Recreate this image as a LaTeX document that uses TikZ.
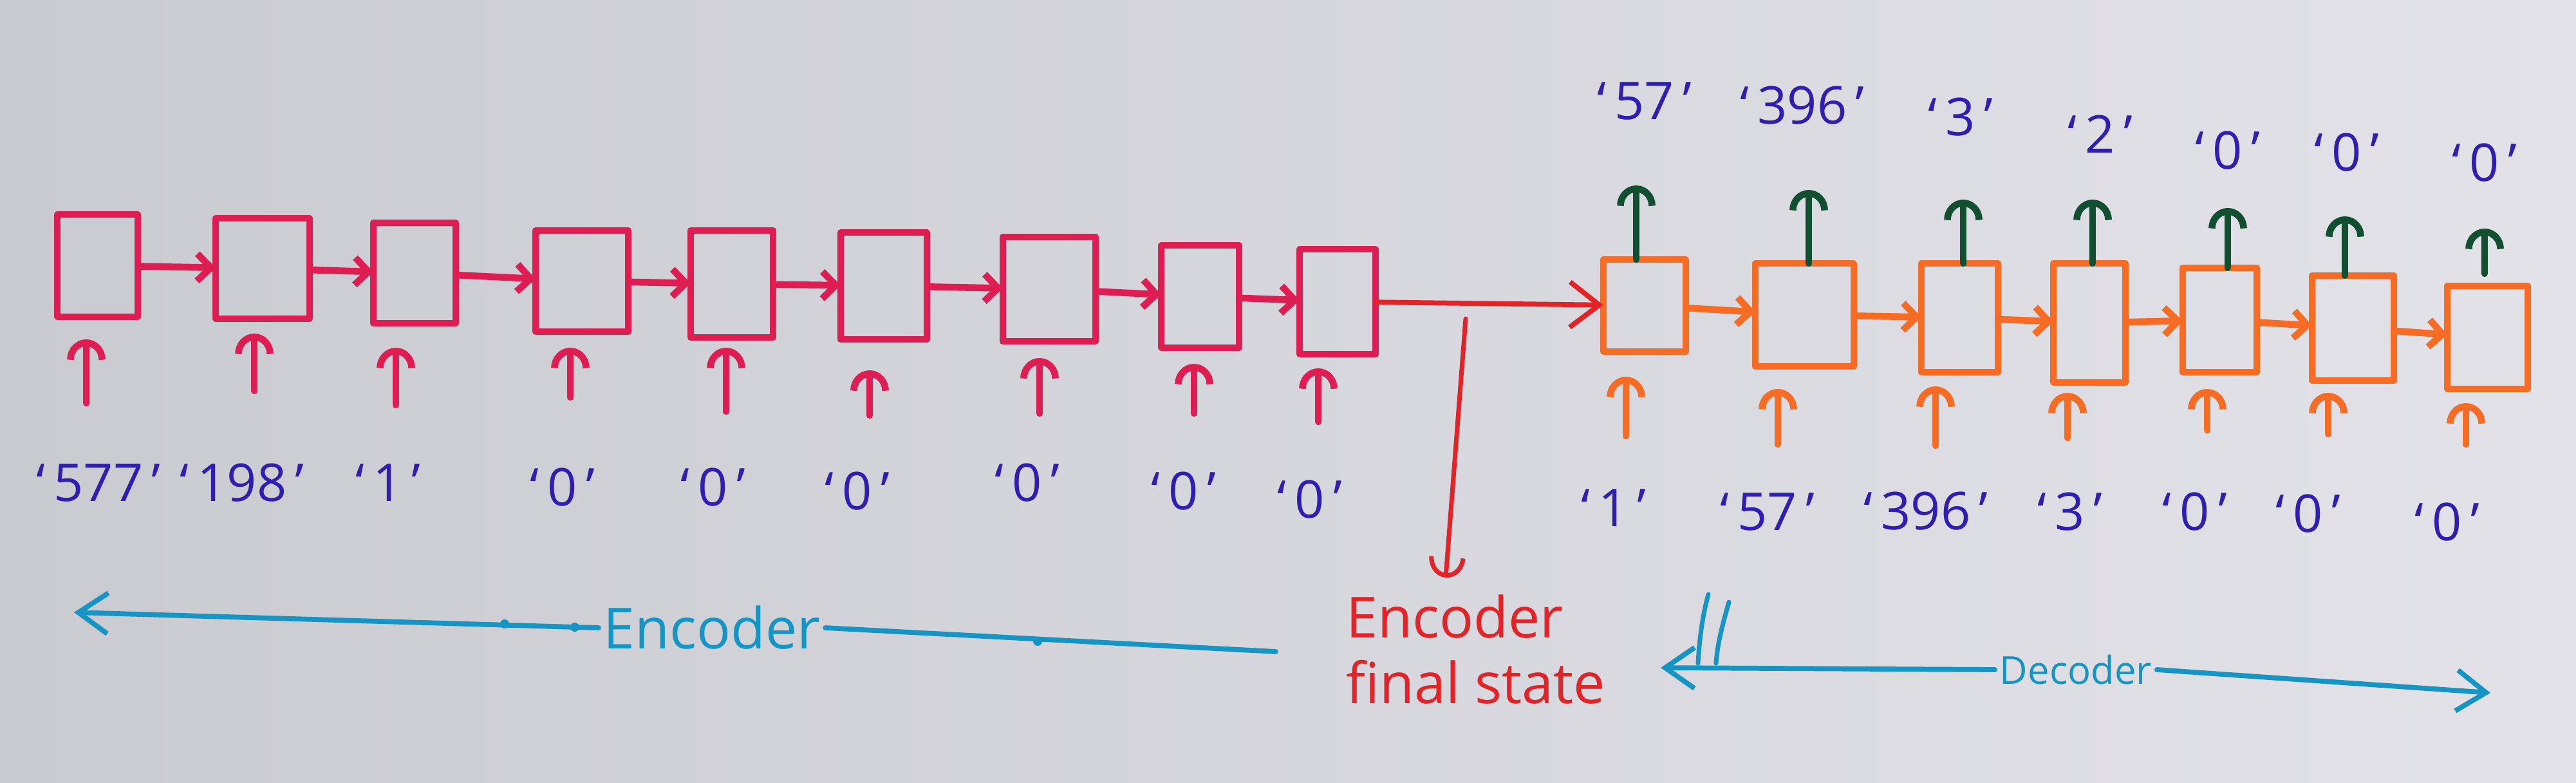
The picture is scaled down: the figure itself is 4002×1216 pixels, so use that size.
\documentclass[tikz,border=0pt]{standalone}
\usepackage{fontspec}
\setmainfont{Open Sans}
\usetikzlibrary{arrows.meta,calc}
\definecolor{paperA}{RGB}{202,202,209}
\definecolor{paperB}{RGB}{226,226,232}
\definecolor{encred}{RGB}{222,30,82}
\definecolor{fsred}{RGB}{226,36,40}
\definecolor{decor}{RGB}{246,108,36}
\definecolor{outgreen}{RGB}{18,78,48}
\definecolor{lblue}{RGB}{48,30,178}
\definecolor{cyanb}{RGB}{22,148,196}
\begin{document}
\begin{tikzpicture}[x=0.01cm,y=-0.01cm,line cap=round,line join=round,
  ebox/.style={draw=encred,line width=3pt,inner sep=0pt,outer sep=0pt},
  dbox/.style={draw=decor,line width=3pt,inner sep=0pt,outer sep=0pt},
  elink/.style={encred,line width=3pt,-{Straight Barb[length=6pt,width=12pt]}},
  dlink/.style={decor,line width=3pt,-{Straight Barb[length=6pt,width=12pt]}},
  einarrow/.style={encred,line width=3pt,-{Arc Barb[length=9pt,width=17pt]}},
  dinarrow/.style={decor,line width=3pt,-{Arc Barb[length=9pt,width=17pt]}},
  garrow/.style={outgreen,line width=3pt,-{Arc Barb[length=9pt,width=17pt]}},
  longred/.style={fsred,line width=2.2pt,-{Straight Barb[length=13pt,width=20pt]}},
  fsarrow/.style={fsred,line width=2pt,-{Arc Barb[length=9pt,width=16pt]}},
  bline/.style={cyanb,line width=2.2pt},
  btip/.style={-{Straight Barb[length=13pt,width=18pt]}},
  lbl/.style={text=lblue,font=\fontsize{23}{26}\selectfont,inner sep=1pt},
  blabel/.style={text=cyanb,font=\fontsize{25}{28}\selectfont,inner sep=2pt},
  fstext/.style={text=fsred,font=\fontsize{25}{29}\selectfont,align=left,inner sep=1pt}]

\shade[left color=paperA,right color=paperB] (0,0) rectangle (4002,1216);
\useasboundingbox (0,0) rectangle (4002,1216);

% encoder cells
\node[ebox,minimum width=1.25cm,minimum height=1.59cm] (e1) at (151.5,412.5) {};
\node[ebox,minimum width=1.46cm,minimum height=1.56cm] (e2) at (408,417) {};
\node[ebox,minimum width=1.28cm,minimum height=1.56cm] (e3) at (644,424) {};
\node[ebox,minimum width=1.44cm,minimum height=1.57cm] (e4) at (904,436.5) {};
\node[ebox,minimum width=1.28cm,minimum height=1.66cm] (e5) at (1137,441) {};
\node[ebox,minimum width=1.34cm,minimum height=1.66cm] (e6) at (1373,444) {};
\node[ebox,minimum width=1.44cm,minimum height=1.62cm] (e7) at (1630,449) {};
\node[ebox,minimum width=1.21cm,minimum height=1.59cm] (e8) at (1864.5,460.5) {};
\node[ebox,minimum width=1.18cm,minimum height=1.63cm] (e9) at (2078,468.5) {};

% decoder cells
\node[dbox,minimum width=1.28cm,minimum height=1.43cm] (d1) at (2555,474.5) {};
\node[dbox,minimum width=1.53cm,minimum height=1.60cm] (d2) at (2803.5,489) {};
\node[dbox,minimum width=1.19cm,minimum height=1.69cm] (d3) at (3044.5,493.5) {};
\node[dbox,minimum width=1.12cm,minimum height=1.85cm] (d4) at (3246,501.5) {};
\node[dbox,minimum width=1.15cm,minimum height=1.62cm] (d5) at (3448.5,497) {};
\node[dbox,minimum width=1.27cm,minimum height=1.63cm] (d6) at (3655.5,509.5) {};
\node[dbox,minimum width=1.25cm,minimum height=1.60cm] (d7) at (3864.5,524) {};

% recurrent links
\foreach \a/\b in {e1/e2,e2/e3,e3/e4,e4/e5,e5/e6,e6/e7,e7/e8,e8/e9}
  \draw[elink] (\a) -- (\b);
\foreach \a/\b in {d1/d2,d2/d3,d3/d4,d4/d5,d5/d6,d6/d7}
  \draw[dlink] (\a) -- (\b);
\draw[longred] (e9) -- (d1);

% encoder inputs
\foreach \i/\x/\y/\g in {1/134/626/0.35,2/395/607/0.23,3/615/629/0.38,4/886/617/0.25,5/1128/639/0.16,6/1351/645/0.48,7/1615/642/0.26,8/1855/642/0.25,9/2048/655/0.22}{
  \coordinate (eta\i) at (\x,\y);
  \draw[einarrow,shorten >=\g cm] (eta\i) -- (eta\i |- e\i.south);
}
\foreach \i/\x/\y/\t in {1/153/750/577,2/376/750/198,3/603/750/1,4/874/757/0,5/1108/757/0,6/1332/763/0,7/1596/750/0,8/1839/763/0,9/2035/776/0}
  \node[lbl] (el\i) at (\x,\y) {`\,\t\,'};

% decoder inputs
\foreach \i/\x/\y/\g in {1/2526/677/0.39,2/2762/690/0.35,3/3007/692/0.22,4/3212/680/0.16,5/3429/668/0.26,6/3617/674/0.19,7/3831/690/0.22}{
  \coordinate (dta\i) at (\x,\y);
  \draw[dinarrow,shorten >=\g cm] (dta\i) -- (dta\i |- d\i.south);
}
\foreach \i/\x/\y/\t in {1/2507/789/1,2/2746/795/57,3/2992/794/396,4/3216/795/3,5/3410/795/0,6/3586/798/0,7/3802/811/0}
  \node[lbl] (dl\i) at (\x,\y) {`\,\t\,'};

% decoder outputs
\foreach \i/\x/\y/\g in {1/2542/288/0,2/2810/295/0,3/3050/310/0,4/3251/310/0,5/3461/323/0,6/3643/336/0,7/3860/355/0.19}{
  \coordinate (ot\i) at (\x,\y);
  \draw[garrow,shorten <=\g cm] (ot\i |- d\i.north) -- (ot\i);
}
\foreach \i/\x/\y/\t in {1/2555/157/57,2/2800/164/396,3/3046/182/3,4/3263/208/2,5/3461/234/0,6/3646/237/0,7/3860/253/0}
  \node[lbl] (ol\i) at (\x,\y) {`\,\t\,'};

% encoder final state
\coordinate (fs) at (2277,495);
\coordinate (fstip) at (2246,897);
\draw[fsarrow] (fs) -- (fstip);
\node[fstext] (fst) at (2293,1009) {Encoder\\final state};

% encoder span
\node[blabel] (enc) at (1106,975) {Encoder};
\coordinate (encL) at (115,951);
\coordinate (encR) at (1982,1012);
\draw[bline,btip] (enc.west) -- (encL);
\draw[bline] (enc.east) -- (encR);
\fill[cyanb] (784,969) circle[radius=0.07cm];
\fill[cyanb] (893,974) circle[radius=0.07cm];
\fill[cyanb] (1612,996) circle[radius=0.07cm];

% decoder span
\node[blabel,font=\fontsize{17}{20}\selectfont] (dec) at (3225,1040) {Decoder};
\coordinate (decL) at (2580,1037);
\coordinate (decR) at (3869,1076);
\draw[bline,btip] (dec.west) -- (decL);
\draw[bline,btip] (dec.east) -- (decR);
\draw[bline,line width=2pt] (2654,923) .. controls (2644,960) and (2640,995) .. (2638,1030);
\draw[bline,line width=2pt] (2686,935) .. controls (2676,970) and (2668,1000) .. (2666,1030);
\end{tikzpicture}
\end{document}
